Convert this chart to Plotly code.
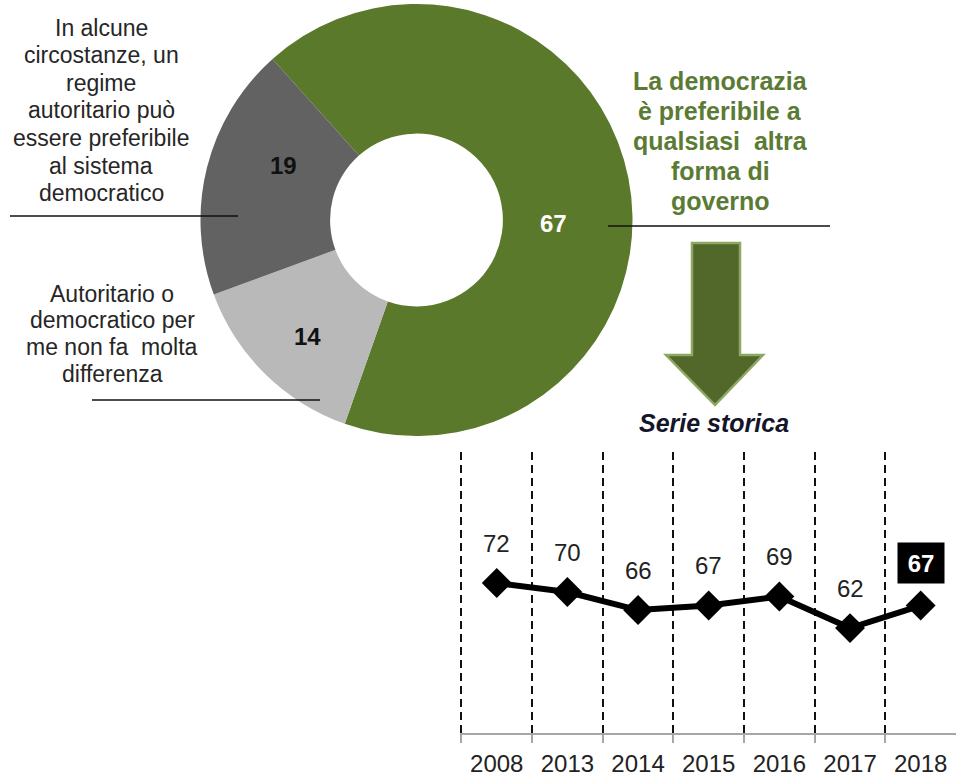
import plotly.graph_objects as go

W, H = 956, 778
FONT = "Liberation Sans, Arial, sans-serif"

# Donut: opinion shares
opinion_labels = [
    "La democrazia è preferibile a qualsiasi altra forma di governo",
    "Autoritario o democratico per me non fa molta differenza",
    "In alcune circostanze, un regime autoritario può essere preferibile al sistema democratico",
]
opinion_values = [67, 14, 19]
opinion_colors = ["#5b792b", "#b9b9b9", "#626262"]
opinion_text_colors = ["#ffffff", "#111111", "#111111"]

# Historical series
years = ["2008", "2013", "2014", "2015", "2016", "2017", "2018"]
series_values = [72, 70, 66, 67, 69, 62, 67]


def fx(px):
    return px / W


def fy(py):
    return 1 - py / H


fig = go.Figure()

fig.add_trace(go.Pie(
    labels=opinion_labels,
    values=opinion_values,
    sort=False,
    direction="clockwise",
    rotation=-41.8,
    hole=0.40,
    marker=dict(colors=opinion_colors, line=dict(width=0)),
    textinfo="none",
    domain=dict(x=[fx(198), fx(635)], y=[fy(436), fy(4)]),
    showlegend=False,
    hoverinfo="label+value",
))

fig.add_trace(go.Scatter(
    x=list(range(len(years))),
    y=series_values,
    mode="lines+markers",
    line=dict(color="#000000", width=6),
    marker=dict(symbol="diamond", size=23, color="#000000"),
    showlegend=False,
    xaxis="x", yaxis="y",
))

annotations = []

# Slice values written on the donut
for v, col, (px, py) in zip(opinion_values, opinion_text_colors,
                            [(553, 223), (307, 336), (283, 165)]):
    annotations.append(dict(
        x=fx(px), y=fy(py), xref="paper", yref="paper",
        text=f"<b>{v}</b>", showarrow=False,
        xanchor="center", yanchor="middle",
        font=dict(family=FONT, size=24, color=col),
    ))

# Value labels above each point; the latest year is highlighted
for i, v in enumerate(series_values):
    last = i == len(series_values) - 1
    ann = dict(
        x=i, y=v, xref="x", yref="y",
        text=f"<b>{v}</b>" if last else str(v),
        showarrow=False, yshift=43 if last else 40,
        font=dict(family=FONT, size=24, color="#ffffff" if last else "#222222"),
    )
    if last:
        ann.update(bgcolor="#000000", borderpad=0, width=46, height=40)
    annotations.append(ann)


def text_block(lines, cx, y0, step, font):
    for k, line in enumerate(lines):
        annotations.append(dict(
            x=fx(cx), y=fy(y0 + k * step), xref="paper", yref="paper",
            text=line, showarrow=False, xanchor="center", yanchor="middle",
            font=font,
        ))


label_font = dict(family=FONT, size=23, color="#262626")

text_block(["In alcune", "circostanze, un", "regime", "autoritario può",
            "essere preferibile", "al sistema", "democratico"],
           101, 27.5, 27.6, label_font)
text_block(["Autoritario o", "democratico per", "me non fa  molta", "differenza"],
           112, 293.5, 26.9, label_font)
text_block(["<b>La democrazia</b>", "<b>è preferibile a</b>", "<b>qualsiasi  altra</b>",
            "<b>forma di</b>", "<b>governo</b>"],
           720, 81, 30, dict(family=FONT, size=25, color="#5b7b34"))

annotations.append(dict(
    x=fx(714), y=fy(423), xref="paper", yref="paper",
    text="<b><i>Serie storica</i></b>",
    showarrow=False, xanchor="center", yanchor="middle",
    font=dict(family=FONT, size=25, color="#15152a"),
))

shapes = []
# Leader lines under the donut labels
for x0, x1, y in [(10, 238, 216), (92, 320, 400), (608, 830, 226)]:
    shapes.append(dict(type="line", xref="paper", yref="paper",
                       x0=fx(x0), x1=fx(x1), y0=fy(y), y1=fy(y),
                       line=dict(color="#111111", width=1.5)))

# Down arrow pointing to the historical series
arrow_pts = [(692, 243), (740, 243), (740, 355), (763, 355), (715, 405),
             (666, 355), (692, 355)]
path = "M " + " L ".join(f"{fx(x):.5f},{fy(y):.5f}" for x, y in arrow_pts) + " Z"
shapes.append(dict(type="path", xref="paper", yref="paper", path=path,
                   fillcolor="#52672a", line=dict(color="#8ea863", width=2.5)))

fig.update_layout(
    width=W, height=H,
    margin=dict(l=0, r=0, t=0, b=0),
    paper_bgcolor="#ffffff",
    plot_bgcolor="#ffffff",
    xaxis=dict(
        type="linear",
        domain=[fx(460), 1.0],
        range=[-0.52, 6.5],
        tickmode="array",
        tickvals=list(range(len(years))),
        ticktext=years,
        ticks="",
        ticklabelstandoff=8,
        showgrid=False,
        showline=True, linecolor="#a6a6a6", linewidth=2,
        tickfont=dict(family=FONT, size=24, color="#222222"),
        zeroline=False, fixedrange=True,
    ),
    xaxis2=dict(
        overlaying="x", matches="x", anchor="y",
        domain=[fx(460), 1.0],
        tickmode="array",
        tickvals=[i - 0.5 for i in range(len(years))],
        showticklabels=False,
        ticks="outside", ticklen=9, tickcolor="#a6a6a6", tickwidth=2,
        showgrid=True, gridcolor="#111111", gridwidth=1.8, griddash="8px,5px",
        zeroline=False, fixedrange=True, side="bottom",
    ),
    yaxis=dict(
        domain=[fy(733), fy(452)],
        range=[38.7, 101.1],
        visible=False, showgrid=False, zeroline=False, fixedrange=True,
    ),
    annotations=annotations,
    shapes=shapes,
)

# Invisible trace so the boundary axis (grid + ticks) is drawn
fig.add_trace(go.Scatter(x=[0], y=[None], xaxis="x2", yaxis="y",
                         showlegend=False, hoverinfo="skip"))

fig.write_html("out.html")
